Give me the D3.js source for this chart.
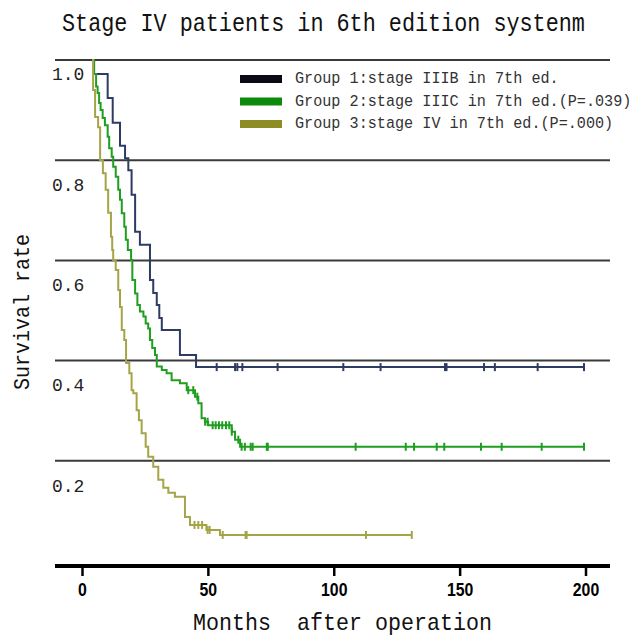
<!DOCTYPE html>
<html>
<head>
<meta charset="utf-8">
<script src="https://cdn.jsdelivr.net/npm/d3@7"></script>
<style>
  html, body { margin: 0; padding: 0; background: #fff; }
  svg { display: block; }
</style>
</head>
<body>
<svg id="chart" width="643" height="637"></svg>
<script>
// ---------------- DATA ----------------
const titleText = "Stage IV patients in 6th edition systenm";
const xLabelText = "Months  after operation";
const yLabelText = "Survival rate";
const xTicks = [0, 50, 100, 150, 200];
const yTicks = [1.0, 0.8, 0.6, 0.4, 0.2];
const yTickLabels = ["1.0", "0.8", "0.6", "0.4", "0.2"];
const groupNames = [
  "Group 1:stage IIIB in 7th ed.",
  "Group 2:stage IIIC in 7th ed.(P=.039)",
  "Group 3:stage IV in 7th ed.(P=.000)"
];

// Group 1: event times (months) and survival after each step
const g1Times = [3.8, 4.6, 10.0, 12.0, 14.9, 16.9, 18.2, 19.5, 20.9, 22.8, 26.8, 28.1, 29.5, 30.5, 31.5, 38.7, 45.1];
const g1Surv  = [1.0, 0.972, 0.924, 0.875, 0.829, 0.804, 0.780, 0.731, 0.657, 0.631, 0.561, 0.535, 0.511, 0.485, 0.461, 0.411, 0.387];
const g1Censor = [53.3, 60.6, 61.5, 63.5, 77.5, 103.6, 118.4, 144.0, 144.6, 159.5, 163.8, 180.8, 199.2];

// Group 2
const g2Times = [3.8, 4.6, 5.4, 6.0, 6.6, 7.2, 8.0, 8.9, 10.0, 10.6, 11.6, 12.2, 13.2, 14.2, 14.9, 15.6, 16.6, 17.2, 18.0, 19.3, 19.8, 20.9, 21.8, 22.8, 24.2, 25.1, 26.1, 26.8, 27.7, 28.8, 29.5, 31.5, 33.4, 35.4, 38.7, 41.4, 44.7, 46.0, 47.3, 48.7, 49.9, 59.3, 60.6, 62.6];
const g2Surv  = [1.0, 0.972, 0.947, 0.934, 0.914, 0.900, 0.884, 0.870, 0.847, 0.824, 0.807, 0.787, 0.767, 0.741, 0.721, 0.694, 0.667, 0.641, 0.621, 0.601, 0.561, 0.534, 0.511, 0.498, 0.488, 0.474, 0.464, 0.441, 0.425, 0.411, 0.388, 0.381, 0.375, 0.361, 0.355, 0.341, 0.328, 0.315, 0.285, 0.278, 0.271, 0.258, 0.242, 0.228];
const g2Censor = [42.0, 44.0, 45.6, 48.7, 49.7, 51.7, 52.9, 54.2, 55.5, 57.0, 58.3, 59.3, 61.9, 63.2, 64.5, 66.8, 67.6, 73.2, 73.6, 108.5, 128.4, 131.7, 140.7, 143.7, 158.3, 166.5, 182.4, 199.2];

// Group 3
const g3Times = [3.8, 4.2, 5.0, 6.2, 7.0, 8.1, 9.2, 10.2, 11.3, 11.8, 12.2, 13.2, 14.2, 14.9, 15.6, 16.6, 17.3, 18.6, 19.5, 20.2, 21.5, 22.4, 23.5, 25.1, 26.1, 28.1, 30.1, 32.1, 34.1, 36.7, 40.7, 42.7, 49.2, 54.6];
const g3Surv  = [1.0, 0.940, 0.886, 0.866, 0.800, 0.774, 0.741, 0.695, 0.647, 0.621, 0.601, 0.581, 0.541, 0.507, 0.461, 0.441, 0.395, 0.375, 0.341, 0.335, 0.301, 0.281, 0.255, 0.228, 0.208, 0.188, 0.162, 0.146, 0.136, 0.128, 0.088, 0.072, 0.062, 0.052];
const g3Censor = [44.5, 46.0, 47.5, 49.7, 50.5, 55.7, 64.8, 65.2, 112.6, 130.8];

// ---------------- STYLE ----------------
const lineColors = ["#2e3b63", "#1f9e1f", "#a6a449"];
const swatchColors = ["#0a0a14", "#0b8a0b", "#8e8c25"];
const serifMono = "'Liberation Mono', 'DejaVu Sans Mono', monospace";

const svg = d3.select("#chart");
const x = d3.scaleLinear().domain([0, 200]).range([82.5, 586]);
const y = d3.scaleLinear().domain([0, 1]).range([561, 60]);

// Title (horizontally condensed via transform)
svg.append("text")
  .attr("transform", "translate(62,31) scale(0.872,1)")
  .attr("font-family", serifMono).attr("font-size", 25)
  .attr("fill", "#111")
  .text(titleText);

// Horizontal reference lines
svg.append("g").selectAll("line").data(yTicks).join("line")
  .attr("x1", 55).attr("x2", 610)
  .attr("y1", d => y(d)).attr("y2", d => y(d))
  .attr("stroke", "#3a3a3a").attr("stroke-width", 2);

// Y tick labels (placed below lines)
svg.append("g").selectAll("text").data(yTicks).join("text")
  .attr("x", 52)
  .attr("y", (d, i) => y(d) + (i === 0 ? 15 : 26))
  .attr("dominant-baseline", "middle")
  .attr("font-family", serifMono).attr("font-size", 18)
  .attr("fill", "#222")
  .text((d, i) => yTickLabels[i]);

// Y label
svg.append("text")
  .attr("transform", "translate(29,312) rotate(-90) scale(0.909,1)")
  .attr("text-anchor", "middle")
  .attr("font-family", serifMono).attr("font-size", 22)
  .attr("fill", "#111")
  .text(yLabelText);

// X axis
const axisY = 566;
svg.append("line")
  .attr("x1", 55).attr("x2", 610).attr("y1", axisY).attr("y2", axisY)
  .attr("stroke", "#000").attr("stroke-width", 4);
svg.append("g").selectAll("line").data(xTicks).join("line")
  .attr("x1", d => x(d)).attr("x2", d => x(d))
  .attr("y1", axisY).attr("y2", axisY + 10)
  .attr("stroke", "#000").attr("stroke-width", 2.5);
svg.append("g").selectAll("text").data(xTicks).join("text")
  .attr("transform", d => `translate(${x(d)},591) scale(0.88,1)`)
  .attr("text-anchor", "middle").attr("dominant-baseline", "middle")
  .attr("font-family", "'Liberation Sans', Arial, sans-serif")
  .attr("font-weight", "bold").attr("font-size", 18)
  .attr("fill", "#000")
  .text(d => d);

svg.append("text")
  .attr("transform", "translate(193,630) scale(0.903,1)")
  .attr("font-family", serifMono).attr("font-size", 24)
  .attr("fill", "#111")
  .attr("xml:space", "preserve").style("white-space", "pre")
  .text(xLabelText);

// Curves
const groups = [
  { times: g1Times, surv: g1Surv, censor: g1Censor },
  { times: g2Times, surv: g2Surv, censor: g2Censor },
  { times: g3Times, surv: g3Surv, censor: g3Censor }
];
const lineGen = d3.line().x(d => x(d[0])).y(d => y(d[1])).curve(d3.curveStepAfter);

groups.forEach((g, gi) => {
  const pts = g.times.map((t, i) => [t, g.surv[i]]);
  const endT = d3.max(g.censor);
  pts.push([endT, g.surv[g.surv.length - 1]]);
  const col = lineColors[gi];
  svg.append("path")
    .attr("d", lineGen(pts))
    .attr("fill", "none").attr("stroke", col).attr("stroke-width", 2);
  const valAt = t => {
    let v = g.surv[0];
    for (let i = 0; i < g.times.length; i++) if (g.times[i] <= t) v = g.surv[i];
    return v;
  };
  svg.append("g").selectAll("line").data(g.censor).join("line")
    .attr("x1", d => x(d)).attr("x2", d => x(d))
    .attr("y1", d => y(valAt(d)) - 4).attr("y2", d => y(valAt(d)) + 4)
    .attr("stroke", col).attr("stroke-width", 2);
});

// Legend
const legend = svg.append("g");
groupNames.forEach((name, i) => {
  const ly = 79 + i * 22.5;
  legend.append("rect")
    .attr("x", 240).attr("y", ly - 4).attr("width", 42).attr("height", 8)
    .attr("fill", swatchColors[i]);
  legend.append("text")
    .attr("transform", `translate(295,${ly}) scale(0.892,1)`)
    .attr("dominant-baseline", "middle")
    .attr("font-family", serifMono).attr("font-size", 17)
    .attr("fill", "#333")
    .text(name);
});
</script>
</body>
</html>
